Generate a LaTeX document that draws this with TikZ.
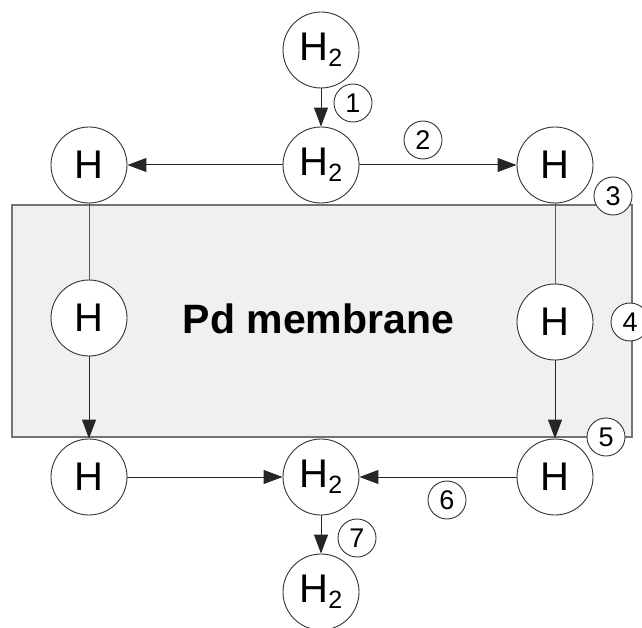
\documentclass[tikz,border=0pt]{standalone}
\usepackage{fontspec}
\setmainfont{Liberation Sans}
\usetikzlibrary{arrows.meta}
\newcommand{\Hii}{H\raisebox{-6pt}{\fontsize{25}{25}\selectfont 2}}
\begin{document}
\begin{tikzpicture}[x=1pt,y=-1pt,
  atom/.style={circle,draw=black!80,line width=0.9pt,fill=white,minimum size=76pt,inner sep=0pt,font=\fontsize{40}{40}\selectfont},
  num/.style={circle,draw=black!80,line width=0.9pt,fill=white,minimum size=38pt,inner sep=0pt,font=\fontsize{27}{27}\selectfont},
  flow/.style={draw=black!85,line width=1pt,-{Triangle[length=19pt,width=14pt]}},
  link/.style={draw=black!65,line width=1pt}]
\useasboundingbox (0,0) rectangle (642,628);
% membrane
\node[draw=black!55,line width=1.6pt,fill=black!6,minimum width=620pt,minimum height=232pt,inner sep=0pt] (mem) at (322,321) {};
\node[font=\fontsize{41}{41}\selectfont\bfseries] (lab) at (318.5,318.5) {Pd membrane};
% atoms
\node[atom] (t)  at (321,50)  {\Hii};
\node[atom] (m)  at (321,165) {\Hii};
\node[atom] (hl) at (89,165)  {H};
\node[atom] (hr) at (555,165) {H};
\node[atom] (il) at (89,318)  {H};
\node[atom] (ir) at (555,322) {H};
\node[atom] (bl) at (89,477)  {H};
\node[atom] (bm) at (321,477) {\Hii};
\node[atom] (br) at (555,477) {H};
\node[atom] (b)  at (321,592) {\Hii};
% connectors
\draw[flow] (t) -- (m);
\draw[flow] (m) -- (hl);
\draw[flow] (m) -- (hr);
\draw[link] (hl) -- (il);
\draw[flow] (il) -- (bl);
\draw[link] (hr) -- (ir);
\draw[flow] (ir) -- (br);
\draw[flow] (bl) -- (bm);
\draw[flow] (br) -- (bm);
\draw[flow] (bm) -- (b);
% step numbers
\node[num] (n1) at (353,103) {1};
\node[num] (n2) at (423,140) {2};
\node[num] (n3) at (613,196) {3};
\node[num] (n4) at (630,322) {4};
\node[num] (n5) at (606,437) {5};
\node[num] (n6) at (447,500) {6};
\node[num] (n7) at (357,538) {7};
\end{tikzpicture}
\end{document}
